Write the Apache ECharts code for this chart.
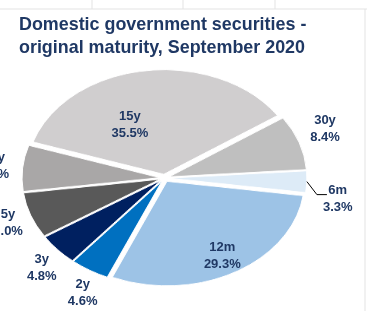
<!DOCTYPE html>
<html>
<head>
<meta charset="utf-8">
<script src="https://cdn.jsdelivr.net/npm/echarts@6/dist/echarts.min.js"></script>
<style>
html, body { margin: 0; padding: 0; background: #fff; }
#wrap { position: relative; width: 367px; height: 311px; overflow: hidden; }
/* the pie is drawn as a circle and squashed into an ellipse */
#pie { position: absolute; left: 0; top: 0; width: 367px; height: 500px;
       transform-origin: 0 250px; transform: translateY(-72px) scaleY(0.76); }
#labels { position: absolute; left: 0; top: 0; width: 367px; height: 311px; }
</style>
</head>
<body>
<div id="wrap"><div id="pie"></div><div id="labels"></div></div>
<script>
const maturities = ['15y', '30y', '6m', '12m', '2y', '3y', '5y', '10y'];
const shares = [35.5, 8.4, 3.3, 29.3, 4.6, 4.8, 7.0, 7.1];
const sliceColors = ['#d0cecf', '#bfbfbf', '#ddebf7', '#9dc3e6', '#0070c0', '#002060', '#595959', '#a9a7a7'];
const insideLabels = ['15y', '12m'];
const leaderLabels = ['6m'];
// small hand nudges so labels sit where Excel put them
const labelNudge = { '15y': [-18, 36], '30y': [-3, -6], '2y': [9, 3], '3y': [7, 3], '5y': [6, 0], '10y': [2, 0] };

const K = 0.76, CX = 164.5, CY = 178, R = 137.5, START = 162;
const navy = '#1f3864';

const pieChart = echarts.init(document.getElementById('pie'));
pieChart.setOption({
    animation: false,
    series: [{
        type: 'pie',
        center: [CX, 250],
        radius: R,
        startAngle: START,
        selectedMode: 'multiple',
        selectedOffset: 5,
        silent: true,
        itemStyle: { borderColor: '#fff', borderWidth: 1 },
        label: { show: false },
        labelLine: { show: false },
        emphasis: { disabled: true },
        data: maturities.map((m, i) => ({
            name: m, value: shares[i], selected: true,
            itemStyle: { color: sliceColors[i] }
        }))
    }]
});

// move the labels of the circular layout onto the ellipse
function squash(params) {
    const r = params.labelRect;
    const name = maturities[params.dataIndex];
    const nudge = labelNudge[name] || [0, 0];
    const out = {
        x: r.x + r.width / 2 + nudge[0],
        y: CY + (r.y + r.height / 2 - CY) * K + nudge[1],
        align: 'center'
    };
    if (params.labelLinePoints) {
        const p0 = params.labelLinePoints[0];
        const x0 = p0[0] + 5, y0 = CY + (p0[1] - CY) * K;
        const p1 = [x0 + 10, y0 + 13], p2 = [x0 + 20, y0 + 13];
        out.labelLinePoints = [[x0, y0], p1, p2];
        out.x = p2[0] + r.width / 2 - 4;
        out.y = p2[1] + 4;
    }
    return out;
}

const labelStyle = {
    position: 'inside',
    color: navy,
    fontFamily: 'Liberation Sans',
    fontWeight: 'bold',
    fontSize: 13,
    lineHeight: 17,
    formatter: p => p.name + '\n' + p.value.toFixed(1) + '%'
};

function labelSeries(radius, names, extra) {
    return Object.assign({
        type: 'pie',
        center: [CX, CY],
        radius: radius,
        startAngle: START,
        silent: true,
        itemStyle: { color: 'rgba(0,0,0,0)' },
        label: labelStyle,
        labelLine: { show: false },
        labelLayout: squash,
        data: maturities.map((m, i) => ({
            name: m, value: shares[i],
            label: { show: names.includes(m) }
        }))
    }, extra || {});
}

const outsideLabels = maturities.filter(m => !insideLabels.includes(m) && !leaderLabels.includes(m));

const labelChart = echarts.init(document.getElementById('labels'));
labelChart.setOption({
    animation: false,
    title: {
        text: 'Domestic government securities -\noriginal maturity, September 2020',
        left: 19,
        top: 14,
        padding: 0,
        textStyle: {
            color: navy, fontFamily: 'Liberation Sans', fontWeight: 'bold',
            fontSize: 17.9, lineHeight: 23
        }
    },
    graphic: [
        { type: 'line', shape: { x1: 0, y1: 9, x2: 367, y2: 9 }, style: { stroke: '#e3e3e3', lineWidth: 1 } },
        { type: 'line', shape: { x1: 365, y1: 9, x2: 365, y2: 311 }, style: { stroke: '#e3e3e3', lineWidth: 1 } },
        { type: 'line', shape: { x1: 92, y1: 0, x2: 92, y2: 9 }, style: { stroke: '#e3e3e3', lineWidth: 1 } },
        { type: 'line', shape: { x1: 183, y1: 0, x2: 183, y2: 9 }, style: { stroke: '#e3e3e3', lineWidth: 1 } },
        { type: 'line', shape: { x1: 275, y1: 0, x2: 275, y2: 9 }, style: { stroke: '#e3e3e3', lineWidth: 1 } }
    ],
    series: [
        labelSeries([95, 135], insideLabels),
        labelSeries([150, 190], outsideLabels),
        labelSeries([0, R], leaderLabels, {
            label: Object.assign({}, labelStyle, { position: 'outside' }),
            labelLine: { show: true, length: 10, length2: 10, lineStyle: { color: '#000', width: 1 } }
        })
    ]
});
</script>
</body>
</html>
